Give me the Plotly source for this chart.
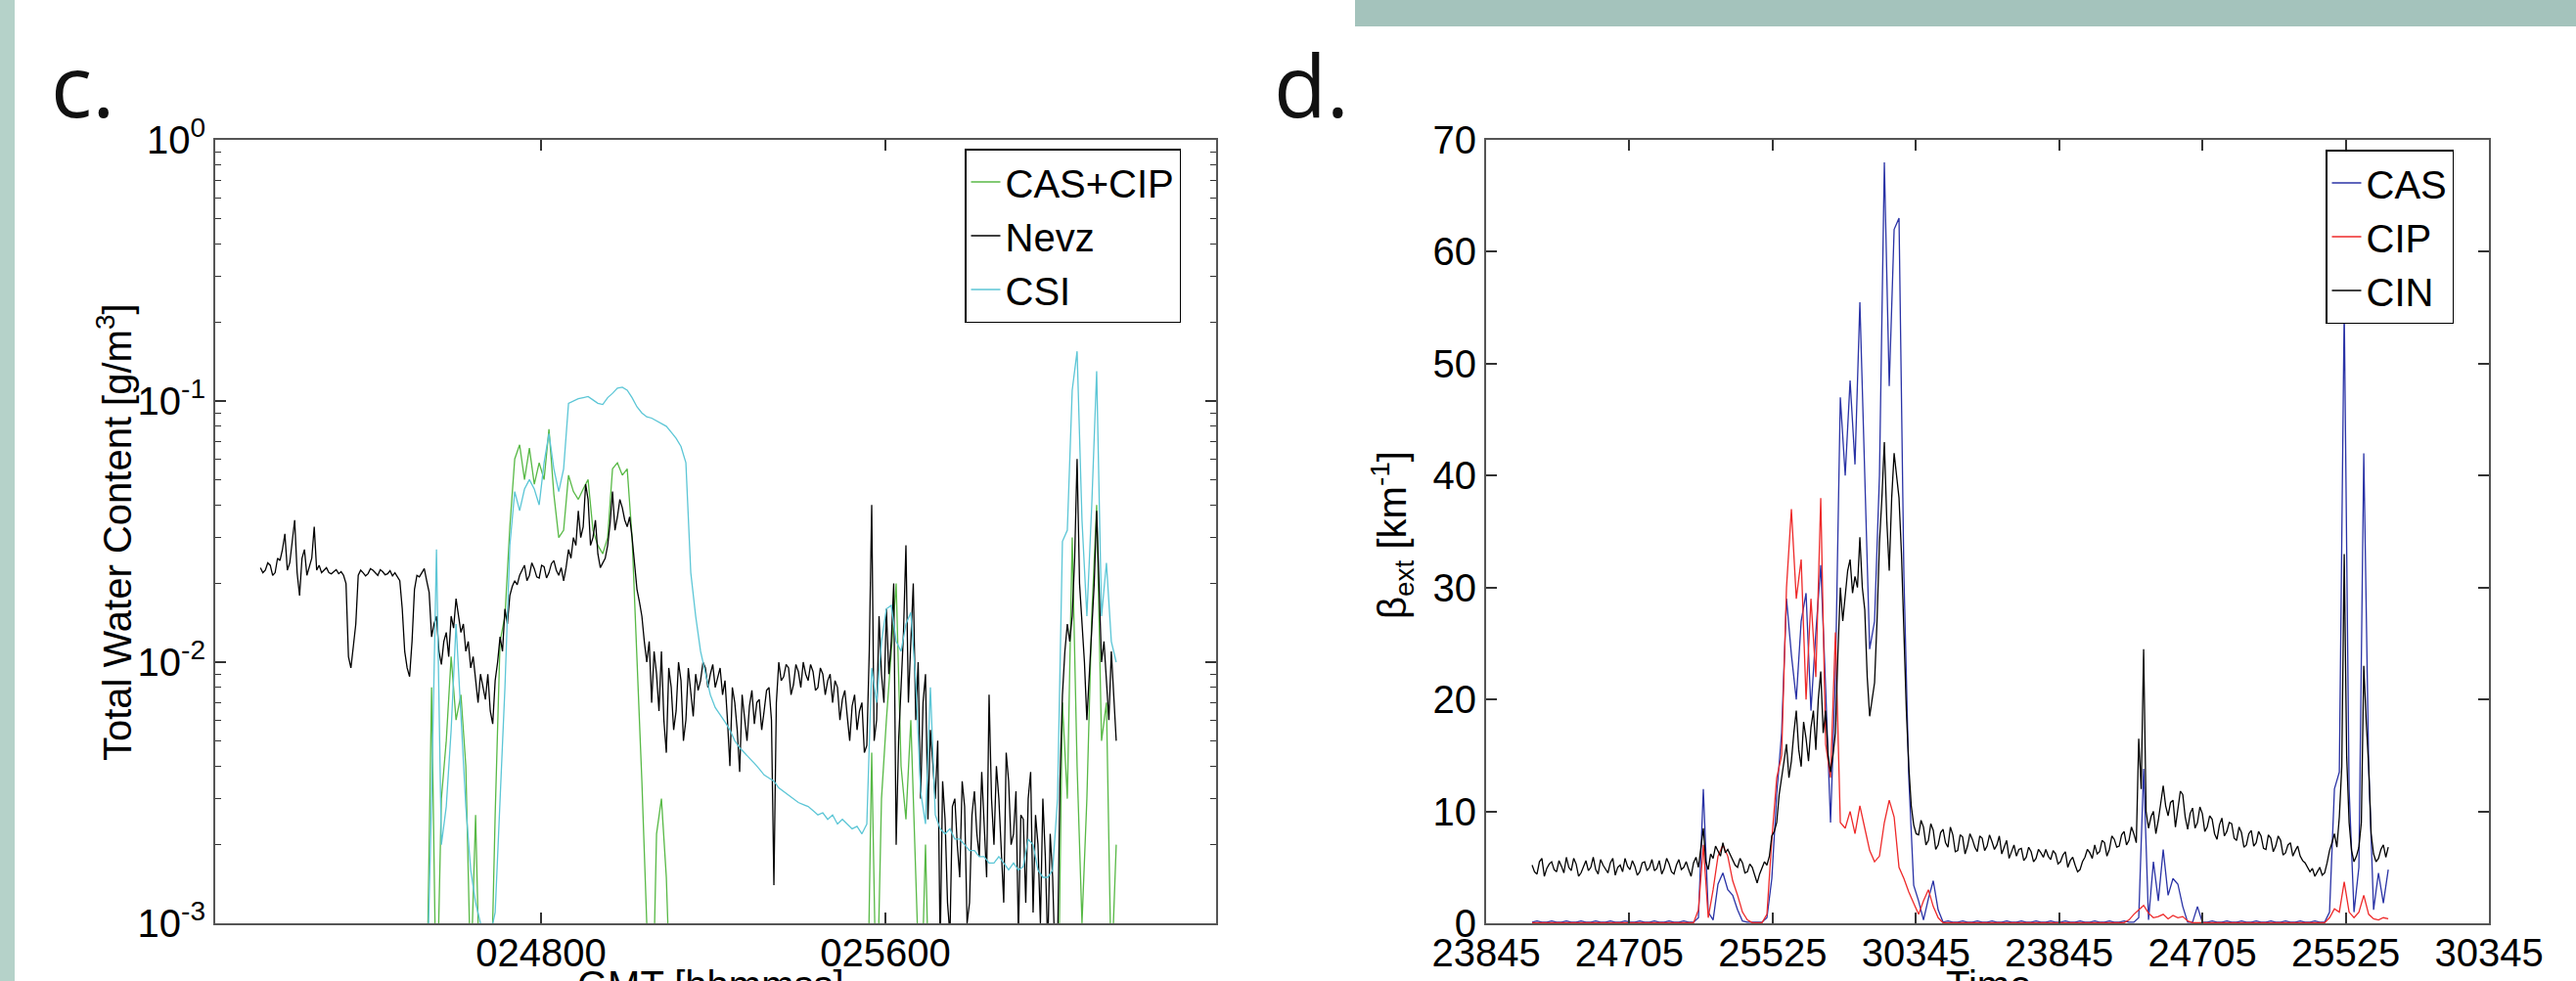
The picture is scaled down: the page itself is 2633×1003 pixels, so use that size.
import plotly.graph_objects as go

# ---------------- data: panel c (Total Water Content, log axis) ----------------
LEFT_T0 = 24148.0      # first sample time (hhmmss-style numeric axis)
LEFT_DT = 11.36        # sample spacing for CAS+CIP and CSI
NEVZ_DT = 5.68         # Nevz is sampled twice as often

nevz = [
    0.0230, 0.0220, 0.0225, 0.0240, 0.0235, 0.0215, 0.0220, 0.0250, 0.0245, 0.0270,
    0.0310, 0.0225, 0.0240, 0.0290, 0.0350, 0.0220, 0.0180, 0.0250, 0.0270, 0.0215,
    0.0230, 0.0250, 0.0330, 0.0225, 0.0235, 0.0220, 0.0225, 0.0230, 0.0220, 0.0218,
    0.0222, 0.0226, 0.0218, 0.0222, 0.0215, 0.0200, 0.0105, 0.0095, 0.0115, 0.0140,
    0.0215, 0.0225, 0.0220, 0.0214, 0.0218, 0.0228, 0.0225, 0.0219, 0.0215, 0.0226,
    0.0222, 0.0216, 0.0218, 0.0224, 0.0214, 0.0220, 0.0212, 0.0205, 0.0160, 0.0110,
    0.0095, 0.0088, 0.0120, 0.0190, 0.0215, 0.0212, 0.0220, 0.0228, 0.0205, 0.0185,
    0.0125, 0.0140, 0.0150, 0.0110, 0.0098, 0.0120, 0.0130, 0.0105, 0.0150, 0.0135,
    0.0175, 0.0150, 0.0130, 0.0140, 0.0110, 0.0120, 0.0095, 0.0105, 0.0085, 0.0070,
    0.0090, 0.0080, 0.0072, 0.0090, 0.0065, 0.0058, 0.0085, 0.0100, 0.0125, 0.0110,
    0.0160, 0.0140, 0.0180, 0.0195, 0.0205, 0.0198, 0.0215, 0.0225, 0.0235, 0.0205,
    0.0215, 0.0240, 0.0228, 0.0212, 0.0210, 0.0235, 0.0232, 0.0210, 0.0220, 0.0238,
    0.0245, 0.0225, 0.0215, 0.0230, 0.0205, 0.0230, 0.0270, 0.0250, 0.0300, 0.0280,
    0.0380, 0.0300, 0.0330, 0.0480, 0.0420, 0.0280, 0.0300, 0.0350, 0.0260, 0.0230,
    0.0240, 0.0250, 0.0280, 0.0340, 0.0450, 0.0320, 0.0360, 0.0420, 0.0390, 0.0350,
    0.0330, 0.0360, 0.0300, 0.0240, 0.0190, 0.0170, 0.0150, 0.0120, 0.0100, 0.0120,
    0.0070, 0.0110, 0.0090, 0.0065, 0.0110, 0.0060, 0.0045, 0.0095, 0.0080, 0.0055,
    0.0065, 0.0100, 0.0085, 0.0050, 0.0060, 0.0095, 0.0075, 0.0062, 0.0090, 0.0078,
    0.0085, 0.0100, 0.0095, 0.0080, 0.0090, 0.0098, 0.0080, 0.0088, 0.0095, 0.0075,
    0.0085, 0.0060, 0.0040, 0.0080, 0.0070, 0.0055, 0.0038, 0.0075, 0.0060, 0.0050,
    0.0068, 0.0078, 0.0058, 0.0070, 0.0072, 0.0055, 0.0065, 0.0078, 0.0080, 0.0060,
    0.0014, 0.0070, 0.0100, 0.0085, 0.0088, 0.0098, 0.0095, 0.0075, 0.0082, 0.0098,
    0.0092, 0.0080, 0.0100, 0.0090, 0.0085, 0.0098, 0.0092, 0.0078, 0.0080, 0.0095,
    0.0090, 0.0075, 0.0085, 0.0090, 0.0070, 0.0085, 0.0080, 0.0060, 0.0072, 0.0078,
    0.0062, 0.0050, 0.0068, 0.0075, 0.0055, 0.0065, 0.0070, 0.0045, 0.0048, 0.0110,
    0.0400, 0.0050, 0.0060, 0.0150, 0.0090, 0.0070, 0.0160, 0.0090, 0.0120, 0.0200,
    0.0020, 0.0050, 0.0080, 0.0130, 0.0280, 0.0070, 0.0120, 0.0200, 0.0060, 0.0100,
    0.0030, 0.0070, 0.0090, 0.0025, 0.0055, 0.0040, 0.0030, 0.0050, 0.0008, 0.0035,
    0.0025, 0.0012, 0.0009, 0.0028, 0.0030, 0.0020, 0.0015, 0.0035, 0.0028, 0.0010,
    0.0012, 0.0026, 0.0032, 0.0022, 0.0018, 0.0038, 0.0025, 0.0015, 0.0075, 0.0030,
    0.0020, 0.0040, 0.0030, 0.0018, 0.0012, 0.0045, 0.0035, 0.0020, 0.0022, 0.0032,
    0.0009, 0.0026, 0.0025, 0.0012, 0.0030, 0.0038, 0.0011, 0.0026, 0.0020, 0.0010,
    0.0030, 0.0018, 0.0008, 0.0022, 0.0015, 0.0007, 0.0008, 0.0035, 0.0075, 0.0110,
    0.0140, 0.0120, 0.0150, 0.0250, 0.0600, 0.0200, 0.0140, 0.0100, 0.0060, 0.0090,
    0.0120, 0.0200, 0.0380, 0.0200, 0.0100, 0.0120, 0.0080, 0.0060, 0.0110, 0.0070,
    0.0050,
]

csi = [None] * 34 + [
    0.0005, 0.0030, 0.0270, 0.0020, 0.0028, 0.0055,
    0.0140, 0.0060, 0.0028, 0.0016, 0.0012, 0.0010, 0.00095, 0.0009, 0.0011, 0.0030,
    0.0080, 0.0280, 0.0450, 0.0380, 0.0460, 0.0500, 0.0460, 0.0400, 0.0580, 0.0750,
    0.0550, 0.0450, 0.0550, 0.0980, 0.1000, 0.1020, 0.1030, 0.1040, 0.1010, 0.0980,
    0.0970, 0.1030, 0.1070, 0.1120, 0.1130, 0.1100, 0.1030, 0.0950, 0.0900, 0.0870,
    0.0860, 0.0840, 0.0820, 0.0800, 0.0760, 0.0720, 0.0670, 0.0580, 0.0220, 0.0150,
    0.0110, 0.0090, 0.0075, 0.0067, 0.0063, 0.0059, 0.0055, 0.0050, 0.0047, 0.0045,
    0.0043, 0.0041, 0.0039, 0.0037, 0.0036, 0.0035, 0.0033, 0.0032, 0.0031, 0.0030,
    0.0029, 0.00285, 0.0028, 0.0027, 0.0026, 0.00265, 0.0025, 0.0026, 0.0024, 0.0025,
    0.0024, 0.0023, 0.00235, 0.0022, 0.0024, 0.0095, 0.0070, 0.0120, 0.0160, 0.0165,
    0.0120, 0.0110, 0.0140, 0.0155, 0.0085, 0.0032, 0.0024, 0.0080, 0.0026, 0.0023,
    0.0022, 0.0023, 0.0021, 0.0021, 0.0020, 0.0019, 0.0019, 0.0018, 0.0018, 0.0017,
    0.0017, 0.0018, 0.0017, 0.0016, 0.0017, 0.0016, 0.00165, 0.0021, 0.0020, 0.0016,
    0.0015, 0.0015, 0.0016, 0.0030, 0.0290, 0.0320, 0.1100, 0.1550, 0.0350, 0.0150,
    0.0400, 0.1300, 0.0150, 0.0240, 0.0120, 0.0100,
]

cas_cip = [None] * 34 + [
    0.0005, 0.0080, 0.0004, 0.0030, 0.0050, 0.0105,
    0.0060, 0.0075, 0.0040, 0.0006, 0.0026, 0.0004, 0.0003, 0.0004, 0.0026, 0.0120,
    0.0150, 0.0330, 0.0600, 0.0680, 0.0500, 0.0660, 0.0480, 0.0580, 0.0500, 0.0780,
    0.0440, 0.0300, 0.0320, 0.0520, 0.0450, 0.0420, 0.0460, 0.0500, 0.0320, 0.0280,
    0.0260, 0.0300, 0.0550, 0.0580, 0.0520, 0.0550, 0.0300, 0.0110, 0.0035, 0.0010,
    0.0003, 0.0022, 0.0030, 0.0015, 0.0004,
] + [None] * 39 + [
    0.0003, 0.0045, 0.0004, 0.0030, 0.0060, 0.0110,
    0.0200, 0.0040, 0.0025, 0.0060, 0.0012, 0.0004, 0.0020, 0.0003,
] + [None] * 25 + [
    0.0003, 0.0070, 0.0030, 0.0300, 0.0040, 0.0010, 0.0030,
    0.0150, 0.0400, 0.0050, 0.0070, 0.0006, 0.0020,
]

LEFT_TICKVALS = [24800, 25600]
LEFT_TICKTEXT = ["024800", "025600"]
LEFT_YTICKVALS = [0.001, 0.01, 0.1, 1]
LEFT_YTICKTEXT = ["10<sup>-3</sup>", "10<sup>-2</sup>", "10<sup>-1</sup>", "10<sup>0</sup>"]

# ---------------- data: panel d (extinction, linear axis) ----------------
RIGHT_X0 = 0.321
RIGHT_DX = 0.03415      # CAS / CIP spacing
CIN_DX = 0.017075       # CIN sampled twice as often
TIME_TICKTEXT = ["23845", "24705", "25525", "30345", "23845", "24705", "25525", "30345"]

cin = [
    5.2, 4.6, 4.4, 5.5, 5.8, 4.2, 4.9, 5.3, 5.5, 4.8, 4.6, 5.6, 5.1, 4.5, 5.9, 5.0,
    4.7, 5.8, 5.3, 4.2, 4.5, 5.1, 5.6, 4.7, 5.0, 5.9, 4.8, 4.4, 5.7, 5.2, 4.9, 4.5,
    5.4, 5.8, 4.3, 5.0, 5.2, 4.6, 5.8, 5.1, 4.8, 5.6, 5.1, 4.3, 4.6, 5.4, 5.5, 4.7,
    5.0, 5.7, 4.7, 4.9, 5.6, 4.4, 4.9, 5.8, 5.3, 4.6, 4.4, 5.2, 5.7, 4.8, 5.0, 5.5,
    4.8, 4.2, 5.4, 5.9, 5.0, 7.0, 8.5, 5.5, 4.8, 6.2, 5.8, 6.9, 6.5, 6.0, 7.2, 6.3,
    6.6, 6.1, 5.7, 5.2, 5.0, 5.8, 5.4, 4.5, 4.6, 5.3, 5.0, 4.2, 3.6, 4.4, 4.9, 5.5,
    5.2, 6.0, 7.8, 8.2, 9.0, 11.5, 13.0, 14.5, 16.0, 13.0, 14.5, 17.0, 19.0, 15.5,
    14.0, 18.0, 16.5, 14.5, 17.5, 19.0, 15.5, 20.0, 22.5, 17.0, 19.0, 15.0, 13.5, 15.0,
    17.0, 24.0, 30.0, 27.0, 29.0, 31.5, 32.5, 29.5, 31.0, 30.0, 34.5, 30.0, 28.0, 22.0,
    18.5, 20.0, 21.5, 27.0, 34.0, 38.0, 43.0, 36.0, 31.5, 38.0, 42.0, 40.0, 38.0, 33.0,
    25.0, 19.0, 14.0, 10.5, 8.8, 8.0, 7.9, 9.2, 8.6, 7.0, 7.4, 8.9, 8.3, 6.6,
    7.0, 8.1, 8.4, 7.2, 6.8, 8.6, 7.9, 6.4, 6.5, 7.9, 7.7, 6.2, 6.9, 8.0,
    7.5, 6.8, 6.4, 7.8, 7.6, 6.5, 6.9, 7.9, 7.3, 6.6, 7.0, 7.8, 6.2, 6.9,
    7.4, 5.8, 6.5, 7.0, 6.0, 6.6, 6.7, 5.6, 5.9, 6.8, 6.4, 5.5, 5.8, 6.6,
    6.3, 5.9, 6.6, 6.0, 5.7, 6.5, 6.2, 5.3, 5.5, 6.1, 6.4, 5.0, 5.6, 5.9,
    5.2, 4.6, 4.8, 5.5, 5.9, 6.6, 6.3, 5.8, 7.0, 6.2, 6.4, 7.4, 7.2, 6.0,
    6.6, 7.8, 7.5, 6.8, 6.9, 7.9, 8.2, 7.0, 7.4, 8.6, 8.0, 7.2, 16.5, 12.0,
    24.5, 10.0, 8.5, 9.5, 10.0, 8.0, 9.2, 11.0, 12.3, 10.5, 9.6, 10.8, 11.0, 8.6,
    10.2, 11.8, 11.5, 9.5, 8.4, 9.8, 10.3, 8.5, 9.0, 10.4, 9.8, 8.2, 8.6, 9.6,
    9.3, 8.0, 7.5, 8.8, 9.4, 7.8, 8.2, 9.0, 8.9, 7.6, 7.4, 8.6, 8.1, 6.8,
    7.0, 8.0, 8.3, 6.9, 7.2, 8.2, 7.8, 6.7, 6.6, 7.9, 7.6, 6.4, 6.9, 7.8,
    7.4, 6.1, 6.3, 7.0, 7.2, 6.0, 6.5, 6.9, 6.0, 5.6, 5.4, 5.0, 4.6, 4.9,
    4.2, 4.6, 5.0, 4.3, 4.5, 5.4, 6.5, 7.2, 8.0, 6.8, 9.5, 14.0, 33.0, 15.0,
    9.0, 6.5, 5.5, 6.0, 6.8, 9.0, 23.0, 18.0, 14.0, 8.0, 6.2, 5.5, 5.8, 6.6,
    7.0, 5.9, 6.8,
]

cas = [
    0.1, 0.2, 0.1, 0.1, 0.2, 0.1, 0.1, 0.2, 0.1, 0.1, 0.2, 0.1, 0.1, 0.2, 0.1, 0.1, 0.2,
    0.1, 0.1, 0.2, 0.1, 0.1, 0.2, 0.1, 0.1, 0.2, 0.1, 0.1, 0.2, 0.1, 0.1, 0.2, 0.1, 0.1,
    0.5, 12.0, 1.0, 0.3, 3.5, 4.5,
    3.0, 2.5, 1.2, 0.2, 0.1, 0.1, 0.1, 0.1, 0.5, 4.0,
    11.5, 17.0, 29.0, 24.0, 20.0, 27.0, 29.5, 19.0, 26.0, 32.0,
    21.0, 9.0, 22.0, 47.0, 40.0, 48.5, 41.0, 55.5, 40.0, 24.5,
    27.0, 40.0, 68.0, 48.0, 62.0, 63.0, 31.0, 13.0, 3.4, 2.0,
    0.3, 2.2, 3.8, 1.2, 0.1, 0.2, 0.1, 0.1, 0.2, 0.1,
    0.1, 0.2, 0.1, 0.1, 0.2, 0.1, 0.1, 0.2, 0.1, 0.1,
    0.2, 0.1, 0.1, 0.2, 0.1, 0.1, 0.2, 0.1, 0.1, 0.2,
    0.1, 0.1, 0.2, 0.1, 0.1, 0.2, 0.1, 0.1, 0.2, 0.1,
    0.1, 0.2, 0.1, 0.1, 0.5, 13.8, 0.3, 5.5, 2.0, 6.6,
    2.5, 4.0, 3.5, 1.5, 0.1, 0.1, 1.5, 0.1, 0.1, 0.2,
    0.1, 0.1, 0.2, 0.1, 0.1, 0.2, 0.1, 0.1, 0.2, 0.1,
    0.1, 0.2, 0.1, 0.1, 0.2, 0.1, 0.1, 0.2, 0.1, 0.1,
    0.2, 0.1, 0.1, 1.0, 12.0, 13.5, 55.0, 12.0, 1.0, 5.0,
    42.0, 14.0, 1.2, 4.5, 1.8, 4.8,
]

cip = [
    0.05, 0.05, 0.05, 0.05, 0.05, 0.05, 0.05, 0.05, 0.05, 0.05, 0.05, 0.05, 0.05, 0.05, 0.05, 0.05, 0.05,
    0.05, 0.05, 0.05, 0.05, 0.05, 0.05, 0.05, 0.05, 0.05, 0.05, 0.05, 0.05, 0.05, 0.05, 0.05, 0.05, 0.05,
    1.2, 7.0, 0.5, 3.0, 6.0, 7.0,
    6.0, 3.8, 2.5, 1.0, 0.3, 0.05, 0.05, 0.05, 0.8, 7.5,
    13.0, 15.0, 30.0, 37.0, 29.0, 32.5, 20.0, 29.0, 22.0, 38.0,
    16.0, 13.0, 26.0, 9.0, 8.5, 10.0, 8.0, 10.5, 8.5, 6.5,
    5.5, 6.0, 9.0, 11.0, 9.5, 5.0, 4.0, 2.8, 1.8, 0.8,
    2.0, 3.0, 1.5, 0.5, 0.05, 0.05, 0.05, 0.05, 0.05, 0.05,
    0.05, 0.05, 0.05, 0.05, 0.05, 0.05, 0.05, 0.05, 0.05, 0.05,
    0.05, 0.05, 0.05, 0.05, 0.05, 0.05, 0.05, 0.05, 0.05, 0.05,
    0.05, 0.05, 0.05, 0.05, 0.05, 0.05, 0.05, 0.05, 0.05, 0.05,
    0.05, 0.05, 0.3, 0.8, 1.2, 1.6, 0.9, 0.5, 0.6, 0.8,
    0.4, 0.7, 0.5, 0.6, 0.2, 0.05, 0.05, 0.05, 0.05, 0.05,
    0.05, 0.05, 0.05, 0.05, 0.05, 0.05, 0.05, 0.05, 0.05, 0.05,
    0.05, 0.05, 0.05, 0.05, 0.05, 0.05, 0.05, 0.05, 0.05, 0.05,
    0.05, 0.05, 0.05, 0.5, 1.3, 1.0, 3.7, 1.0, 0.5, 1.0,
    2.5, 0.8, 0.4, 0.3, 0.5, 0.4,
]

# ---------------- figure ----------------
W, H = 2633, 1003
FONT = "Liberation Sans, Arial, sans-serif"
FS = 40
GREEN, CYAN, BLACK = "#58b946", "#5cc6d6", "#000000"
BLUE, RED = "#2a33a6", "#ee2a2a"


def fx(px):
    return px / W


def fy(py):
    return 1 - py / H


x_left = [LEFT_T0 + i * LEFT_DT for i in range(len(csi))]
x_nevz = [LEFT_T0 + i * NEVZ_DT for i in range(len(nevz))]
x_right = [RIGHT_X0 + i * RIGHT_DX for i in range(len(cas))]
x_cin = [RIGHT_X0 + i * CIN_DX for i in range(len(cin))]

fig = go.Figure()
LW = 1.3
fig.add_trace(go.Scatter(x=x_left, y=cas_cip, name="CAS+CIP", mode="lines",
                         line=dict(color=GREEN, width=LW), xaxis="x", yaxis="y", legend="legend"))
fig.add_trace(go.Scatter(x=x_nevz, y=nevz, name="Nevz", mode="lines",
                         line=dict(color=BLACK, width=LW), xaxis="x", yaxis="y", legend="legend"))
fig.add_trace(go.Scatter(x=x_left, y=csi, name="CSI", mode="lines",
                         line=dict(color=CYAN, width=LW), xaxis="x", yaxis="y", legend="legend"))

fig.add_trace(go.Scatter(x=x_right, y=cas, name="CAS", mode="lines",
                         line=dict(color=BLUE, width=LW), xaxis="x2", yaxis="y2", legend="legend2"))
fig.add_trace(go.Scatter(x=x_right, y=cip, name="CIP", mode="lines",
                         line=dict(color=RED, width=LW), xaxis="x2", yaxis="y2", legend="legend2"))
fig.add_trace(go.Scatter(x=x_cin, y=cin, name="CIN", mode="lines",
                         line=dict(color=BLACK, width=LW), xaxis="x2", yaxis="y2", legend="legend2"))

axis_common = dict(
    automargin=False,
    showline=True, linecolor="#555555", linewidth=2, mirror="ticks",
    ticks="inside", ticklen=11, tickwidth=1.5, tickcolor="#333333",
    showgrid=False, zeroline=False,
    tickfont=dict(family=FONT, size=FS, color="black"),
)

Y_DOM = [fy(944), fy(143)]

minor_vals = [m * 10 ** e for e in (-3, -2, -1) for m in range(2, 10)]

fig.update_layout(
    width=W, height=H, autosize=False,
    margin=dict(l=0, r=0, t=0, b=0, pad=0),
    paper_bgcolor="white", plot_bgcolor="white",
    font=dict(family=FONT, size=FS, color="black"),
    xaxis=dict(axis_common, domain=[fx(220), fx(1243)], anchor="y",
               range=[24043, 26368], tickmode="array",
               tickvals=LEFT_TICKVALS, ticktext=LEFT_TICKTEXT, ticklabelstandoff=-6),
    yaxis=dict(axis_common, domain=Y_DOM, anchor="x", type="log", range=[-3, 0],
               tickmode="array", tickvals=LEFT_YTICKVALS, ticktext=LEFT_YTICKTEXT,
               minor=dict(ticks="inside", ticklen=6, tickwidth=1.2, tickcolor="#333333",
                          tickvals=minor_vals, showgrid=False)),
    xaxis2=dict(axis_common, domain=[fx(1519), fx(2544)], anchor="y2",
                range=[0, 7], tickmode="array", tickvals=list(range(8)),
                ticktext=TIME_TICKTEXT, ticklabelstandoff=-6),
    yaxis2=dict(axis_common, domain=Y_DOM, anchor="x2", range=[0, 70],
                tickmode="linear", tick0=0, dtick=10),
    legend=dict(x=fx(986), y=fy(152), xanchor="left", yanchor="top",
                bgcolor="white", bordercolor="black", borderwidth=1.5,
                font=dict(family=FONT, size=FS, color="black"), tracegroupgap=0),
    legend2=dict(x=fx(2377), y=fy(153), xanchor="left", yanchor="top",
                 bgcolor="white", bordercolor="black", borderwidth=1.5,
                 font=dict(family=FONT, size=FS, color="black"), tracegroupgap=0),
    showlegend=True,
)

# decorative slide bars
fig.add_shape(type="rect", xref="paper", yref="paper", x0=fx(1385), x1=1, y0=fy(27), y1=1,
              line=dict(width=0), fillcolor="#a4c3bc", layer="below")
fig.add_shape(type="rect", xref="paper", yref="paper", x0=0, x1=fx(15), y0=0, y1=1,
              line=dict(width=0), fillcolor="#b5d2c9", layer="below")

ann = []
ann.append(dict(text="c.", x=fx(50), y=fy(86), xref="paper", yref="paper", xanchor="left",
                yanchor="middle", showarrow=False,
                font=dict(family="Open Sans, sans-serif", size=88, color="#111111")))
ann.append(dict(text="d.", x=fx(1300), y=fy(86), xref="paper", yref="paper", xanchor="left",
                yanchor="middle", showarrow=False,
                font=dict(family="Open Sans, sans-serif", size=88, color="#111111")))
ann.append(dict(text="Total Water Content [g/m<sup>3</sup>]", x=fx(117), y=fy(544),
                xref="paper", yref="paper", textangle=-90, showarrow=False,
                xanchor="center", yanchor="middle", font=dict(family=FONT, size=FS, color="black")))
ann.append(dict(text="β<sub>ext</sub> [km<sup>-1</sup>]", x=fx(1423), y=fy(547),
                xref="paper", yref="paper", textangle=-90, showarrow=False,
                xanchor="center", yanchor="middle", font=dict(family=FONT, size=FS, color="black")))
ann.append(dict(text="GMT [hhmmss]", x=fx(726), y=fy(983), xref="paper", yref="paper",
                xanchor="center", yanchor="top", showarrow=False,
                font=dict(family=FONT, size=FS, color="black")))
ann.append(dict(text="Time", x=fx(2032), y=fy(983), xref="paper", yref="paper",
                xanchor="center", yanchor="top", showarrow=False,
                font=dict(family=FONT, size=FS, color="black")))
fig.update_layout(annotations=ann)

fig.write_html("out.html", config={"displayModeBar": False},
               post_script="document.body.style.margin='0px';")
